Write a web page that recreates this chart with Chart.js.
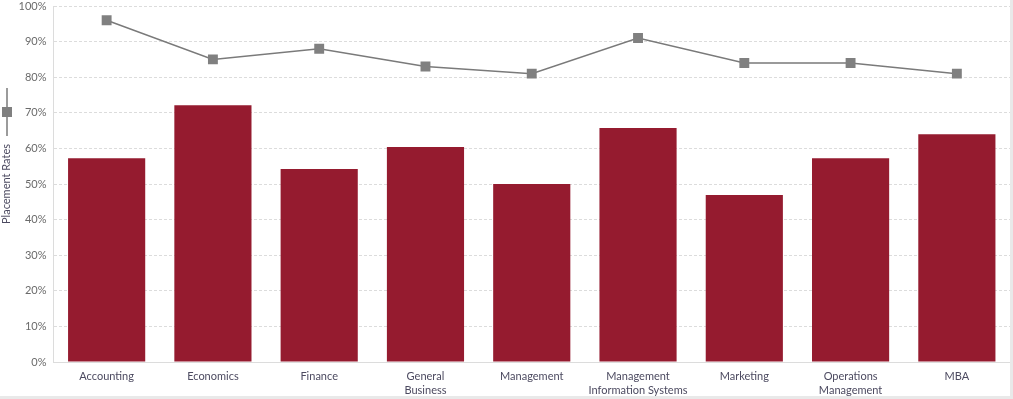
<!DOCTYPE html>
<html>
<head>
<meta charset="utf-8">
<script src="https://cdn.jsdelivr.net/npm/chart.js@4/dist/chart.umd.min.js"></script>
<style>
  html, body { margin: 0; padding: 0; background: #e9e9e9; }
  #wrap { position: absolute; left: 0; top: 0; width: 1010px; height: 396px; background: #fff; }
</style>
</head>
<body>
<div id="wrap"><canvas id="placementChart"></canvas></div>
<script>
const categories = [
    'Accounting', 'Economics', 'Finance', ['General', 'Business'], 'Management',
    ['Management', 'Information Systems'], 'Marketing', ['Operations', 'Management'], 'MBA'
];
const placementRates = [57.2, 72.1, 54.2, 60.4, 50.0, 65.7, 46.9, 57.2, 64.0];
const knowledgeRates = [96, 85, 88, 83, 81, 91, 84, 84, 81];
const yTicks = [0, 10, 20, 30, 40, 50, 60, 70, 80, 90, 100];

const barColor = '#951b2f';
const lineColor = '#7a7a7a';
const markerColor = '#808080';
const gridColor = '#dcdcdc';
const labelColor = '#4c4a60';

// 縦軸タイトルの上に凡例記号（線＋四角）を描く
const legendSymbol = {
    id: 'legendSymbol',
    afterDraw(chart) {
        const ctx = chart.ctx;
        const x = 7;
        const cy = 112;
        ctx.save();
        ctx.strokeStyle = lineColor;
        ctx.lineWidth = 1.5;
        ctx.beginPath();
        ctx.moveTo(x, cy - 24);
        ctx.lineTo(x, cy + 24);
        ctx.stroke();
        ctx.fillStyle = markerColor;
        ctx.fillRect(x - 5, cy - 5, 10, 10);
        ctx.restore();
    }
};

new Chart(document.getElementById('placementChart').getContext('2d'), {
    data: {
        labels: categories,
        datasets: [{
            type: 'line',
            label: 'Knowledge Rate',
            data: knowledgeRates,
            borderColor: lineColor,
            borderWidth: 1.5,
            pointStyle: 'rect',
            pointRadius: 7,
            pointHoverRadius: 7,
            pointBackgroundColor: markerColor,
            pointBorderColor: markerColor,
            pointBorderWidth: 0,
            tension: 0,
            order: 0
        }, {
            type: 'bar',
            label: 'Placement Rate',
            data: placementRates,
            backgroundColor: barColor,
            categoryPercentage: 0.726,
            barPercentage: 1.0,
            order: 1
        }]
    },
    options: {
        responsive: true,
        maintainAspectRatio: false,
        animation: false,
        layout: { autoPadding: false, padding: { top: 6, right: 0, left: 0, bottom: 0 } },
        plugins: {
            legend: { display: false },
            tooltip: { enabled: false }
        },
        scales: {
            x: {
                afterFit: (axis) => {
                    axis.height = 34;
                    axis.paddingLeft = 0;
                    axis.paddingRight = 0;
                },
                grid: { display: false, drawTicks: false },
                border: { display: true, color: gridColor, dash: [3, 2] },
                ticks: {
                    color: labelColor,
                    font: { family: 'Lato', size: 11, lineHeight: 1.27 },
                    padding: 7,
                    maxRotation: 0,
                    autoSkip: false
                }
            },
            y: {
                min: 0,
                max: 100,
                afterFit: (axis) => {
                    axis.width = 53.5;
                    axis.paddingTop = 0;
                    axis.paddingBottom = 0;
                },
                afterBuildTicks: (axis) => { axis.ticks = yTicks.map(v => ({ value: v })); },
                grid: { color: gridColor, drawTicks: false, tickLength: 0 },
                border: { display: true, color: gridColor, dash: [3, 2] },
                ticks: {
                    color: '#6a6a6a',
                    font: { family: 'Lato', size: 11 },
                    padding: 7,
                    callback: (v) => `${v}%`
                },
                title: {
                    display: true,
                    text: 'Placement Rates',
                    color: labelColor,
                    font: { family: 'Lato', size: 11 },
                    padding: { top: 0, bottom: 2 }
                }
            }
        }
    },
    plugins: [legendSymbol]
});
</script>
</body>
</html>
